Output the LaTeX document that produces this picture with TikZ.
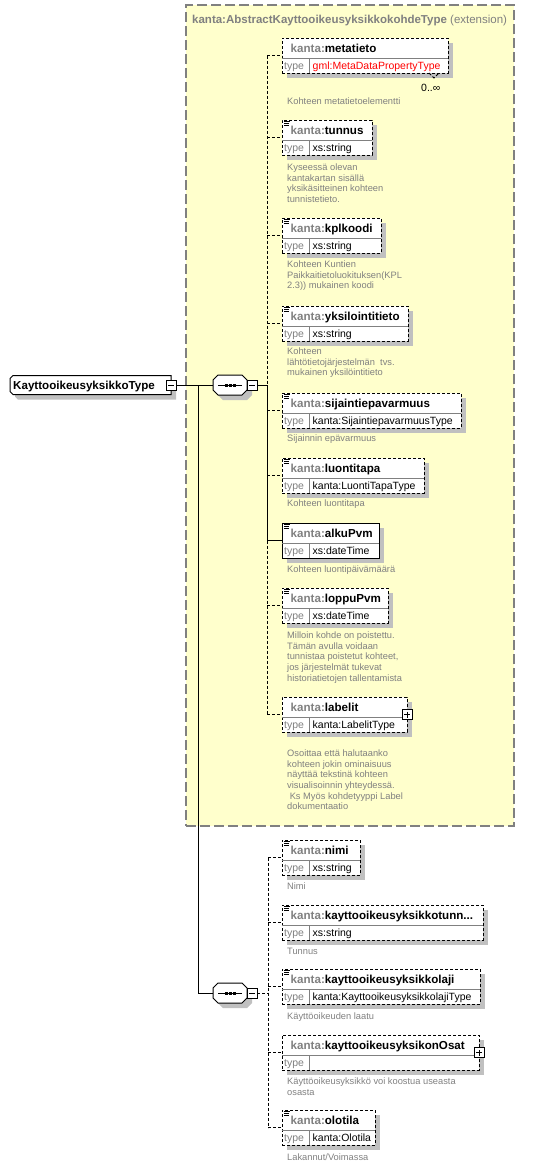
\documentclass[tikz,border=0pt]{standalone}
\usepackage{fontspec}
\setmainfont{Liberation Sans}
\usetikzlibrary{shadows}

\definecolor{extfill}{HTML}{FFFFCC}
\definecolor{extline}{HTML}{808080}
\definecolor{shgray}{HTML}{C0C0C0}
\definecolor{kgray}{HTML}{808080}
\definecolor{dscgray}{HTML}{808080}
\definecolor{divgray}{HTML}{808080}

\tikzset{
	shade5/.style={drop shadow={shadow xshift=5pt, shadow yshift=-5pt, fill=shgray, opacity=1}},
	extbox/.style={draw=extline, fill=extfill, line width=1.2pt, dash pattern=on 10pt off 4pt, anchor=north west, inner sep=0pt, outer sep=0pt},
	exttitle/.style={anchor=base west, inner sep=0pt, text=kgray, font=\fontsize{11.5}{14}\selectfont},
	elbox/.style={draw, line width=1pt, dash pattern=on 3pt off 2pt, fill=white, anchor=north west, minimum height=35pt, inner sep=0pt, outer sep=0pt, shade5},
	reqbox/.style={elbox, solid},
	divline/.style={draw=divgray, line width=1pt},
	ttl/.style={anchor=base west, inner sep=0pt, font=\fontsize{11.6}{14}\selectfont\bfseries},
	typ/.style={anchor=base west, inner sep=0pt, text=kgray, font=\fontsize{10.5}{12}\selectfont},
	val/.style={anchor=base west, inner sep=0pt, font=\fontsize{10.5}{12}\selectfont},
	dsc/.style={anchor=north west, inner sep=0pt, align=left, text=dscgray, font=\fontsize{9.3}{10.7}\selectfont},
	optline/.style={line width=1pt, dash pattern=on 3pt off 2pt},
	reqline/.style={line width=1pt},
	rootbox/.style={minimum width=161pt, minimum height=19pt, inner sep=0pt, outer sep=0pt},
	seqbox/.style={minimum width=34pt, minimum height=20pt, inner sep=0pt, outer sep=0pt},
	minusbox/.style={draw, line width=1pt, fill=white, minimum size=10pt, inner sep=0pt, outer sep=0pt,
		path picture={\draw [line width=1pt] ([xshift=2pt]path picture bounding box.west) -- ([xshift=-2pt]path picture bounding box.east);}},
	plusbox/.style={minusbox,
		path picture={\draw [line width=1pt] ([xshift=2pt]path picture bounding box.west) -- ([xshift=-2pt]path picture bounding box.east) ([yshift=-2pt]path picture bounding box.north) -- ([yshift=2pt]path picture bounding box.south);}},
	docicon/.pic={\draw [line width=0.8pt] ( 0, 1.5 ) -- ( 6, 1.5 ) ( 0, 3.5 ) -- ( 5, 3.5 ) ( 0, 5.5 ) -- ( 5, 5.5 );},
	rootshape/.pic={\filldraw [fill=white, line width=1pt, shade5] ( -77.5, -9.5 ) -- ( 80.5, -9.5 ) -- ( 80.5, 9.5 ) -- ( -77.5, 9.5 ) -- ( -80.5, 6.5 ) -- ( -80.5, -6.5 ) -- cycle;},
	seqshape/.pic={\filldraw [fill=white, line width=1pt, shade5] ( -17, -5 ) -- ( -12, -10 ) -- ( 12, -10 ) -- ( 17, -5 ) -- ( 17, 5 ) -- ( 12, 10 ) -- ( -12, 10 ) -- ( -17, 5 ) -- cycle;
		\draw [line width=1pt] ( -12, 0 ) -- ( 12, 0 );
		\foreach \dx in {-4,0,4} \fill ( \dx-1.5, -1.5 ) rectangle ( \dx+1.5, 1.5 );}
}

\begin{document}
\begin{tikzpicture}[x=1pt, y=-1pt]
	\useasboundingbox ( 0, 0 ) rectangle ( 557, 1168 );

	% расширение
	\node [extbox, minimum width=328pt, minimum height=821pt] (ext) at ( 186, 5 ) {};
	\node [exttitle] (extT) at ( 192, 23 ) {\bfseries kanta:AbstractKayttooikeusyksikkokohdeType\mdseries\ (extension)};

	% корневой тип
	\node [rootbox] (root) at ( 90.5, 385 ) {};
	\pic at (root) {rootshape};
	\node [ttl] (rootT) at ( 13, 389 ) {KayttooikeusyksikkoType};
	\node [minusbox] (rootm) at ( 171, 385 ) {};

	% последовательности
	\node [seqbox] (seq1) at ( 230, 385 ) {};
	\pic at (seq1) {seqshape};
	\node [minusbox] (seq1m) at ( 252, 385 ) {};
	\node [seqbox] (seq2) at ( 230, 993 ) {};
	\pic at (seq2) {seqshape};
	\node [minusbox] (seq2m) at ( 252, 993 ) {};

	\coordinate (fork) at ( 198, 385 );
	\coordinate (spineA) at ( 267, 385 );
	\coordinate (spineB) at ( 268, 993 );

	\draw [reqline] (rootm.east) -- (seq1.west);
	\draw [reqline] (fork) |- (seq2.west);
	\draw [reqline] (seq1m.east) -- (spineA);
	\draw [optline] (seq2m.east) -- (spineB);

	% элемент metatieto
	\node [elbox, minimum width=166pt] (metatieto) at ( 282, 38 ) {};
	\draw [divline] ( 282, 58.5 ) -- ( 448, 58.5 ) ( 309, 58.5 ) -- ( 309, 73 );
	\draw [optline] ( 429, 73 ) -- ( 434, 78 ) -- ( 439, 73 );
	\node [ttl] (metatietoT) at ( 290.5, 52.5 ) {\textcolor{kgray}{kanta:}metatieto};
	\node [typ] (metatietoK) at ( 284, 69 ) {type};
	\node [val, text=red] (metatietoV) at ( 312.5, 69 ) {gml:MetaDataPropertyType};
	\node [val] (metatietoN) at ( 421, 91 ) {0..∞};
	\node [dsc] (metatietoD) at ( 287, 97.5 ) {Kohteen metatietoelementti};

	% элемент tunnus
	\node [elbox, minimum width=90pt] (tunnus) at ( 282, 120 ) {};
	\draw [divline] ( 282, 140.5 ) -- ( 372, 140.5 ) ( 309, 140.5 ) -- ( 309, 155 );
	\pic at ( 284, 120 ) {docicon};
	\node [ttl] (tunnusT) at ( 290.5, 134.5 ) {\textcolor{kgray}{kanta:}tunnus};
	\node [typ] (tunnusK) at ( 284, 151 ) {type};
	\node [val] (tunnusV) at ( 312.5, 151 ) {xs:string};
	\node [dsc] (tunnusD) at ( 287, 163.5 ) {Kyseessä olevan\\kantakartan sisällä\\yksikäsitteinen kohteen\\tunnistetieto.};

	% элемент kplkoodi
	\node [elbox, minimum width=99pt] (kplkoodi) at ( 282, 218 ) {};
	\draw [divline] ( 282, 238.5 ) -- ( 381, 238.5 ) ( 309, 238.5 ) -- ( 309, 253 );
	\pic at ( 284, 218 ) {docicon};
	\node [ttl] (kplkoodiT) at ( 290.5, 232.5 ) {\textcolor{kgray}{kanta:}kplkoodi};
	\node [typ] (kplkoodiK) at ( 284, 249 ) {type};
	\node [val] (kplkoodiV) at ( 312.5, 249 ) {xs:string};
	\node [dsc] (kplkoodiD) at ( 287, 260.5 ) {Kohteen Kuntien\\Paikkaitietoluokituksen(KPL\\2.3)) mukainen koodi};

	% элемент yksilointitieto
	\node [elbox, minimum width=126pt] (yksilointi) at ( 282, 306 ) {};
	\draw [divline] ( 282, 326.5 ) -- ( 408, 326.5 ) ( 309, 326.5 ) -- ( 309, 341 );
	\pic at ( 284, 306 ) {docicon};
	\node [ttl] (yksilointiT) at ( 290.5, 320.5 ) {\textcolor{kgray}{kanta:}yksilointitieto};
	\node [typ] (yksilointiK) at ( 284, 337 ) {type};
	\node [val] (yksilointiV) at ( 312.5, 337 ) {xs:string};
	\node [dsc] (yksilointiD) at ( 287, 347.5 ) {Kohteen\\lähtötietojärjestelmän\ \ tvs.\\mukainen yksilöintitieto};

	% элемент sijaintiepavarmuus
	\node [elbox, minimum width=179pt] (sijainti) at ( 282, 393 ) {};
	\draw [divline] ( 282, 413.5 ) -- ( 461, 413.5 ) ( 309, 413.5 ) -- ( 309, 428 );
	\pic at ( 284, 393 ) {docicon};
	\node [ttl] (sijaintiT) at ( 290.5, 407.5 ) {\textcolor{kgray}{kanta:}sijaintiepavarmuus};
	\node [typ] (sijaintiK) at ( 284, 424 ) {type};
	\node [val] (sijaintiV) at ( 312.5, 424 ) {kanta:SijaintiepavarmuusType};
	\node [dsc] (sijaintiD) at ( 287, 434.5 ) {Sijainnin epävarmuus};

	% элемент luontitapa
	\node [elbox, minimum width=142pt] (luontitapa) at ( 282, 458 ) {};
	\draw [divline] ( 282, 478.5 ) -- ( 424, 478.5 ) ( 309, 478.5 ) -- ( 309, 493 );
	\pic at ( 284, 458 ) {docicon};
	\node [ttl] (luontitapaT) at ( 290.5, 472.5 ) {\textcolor{kgray}{kanta:}luontitapa};
	\node [typ] (luontitapaK) at ( 284, 489 ) {type};
	\node [val] (luontitapaV) at ( 312.5, 489 ) {kanta:LuontiTapaType};
	\node [dsc] (luontitapaD) at ( 287, 499.5 ) {Kohteen luontitapa};

	% элемент alkuPvm
	\node [reqbox, minimum width=97pt] (alkupvm) at ( 282, 523 ) {};
	\draw [divline] ( 282, 543.5 ) -- ( 379, 543.5 ) ( 309, 543.5 ) -- ( 309, 558 );
	\pic at ( 284, 523 ) {docicon};
	\node [ttl] (alkupvmT) at ( 290.5, 537.5 ) {\textcolor{kgray}{kanta:}alkuPvm};
	\node [typ] (alkupvmK) at ( 284, 554 ) {type};
	\node [val] (alkupvmV) at ( 312.5, 554 ) {xs:dateTime};
	\node [dsc] (alkupvmD) at ( 287, 565.5 ) {Kohteen luontipäivämäärä};

	% элемент loppuPvm
	\node [elbox, minimum width=106pt] (loppupvm) at ( 282, 588 ) {};
	\draw [divline] ( 282, 608.5 ) -- ( 388, 608.5 ) ( 309, 608.5 ) -- ( 309, 623 );
	\pic at ( 284, 588 ) {docicon};
	\node [ttl] (loppupvmT) at ( 290.5, 602.5 ) {\textcolor{kgray}{kanta:}loppuPvm};
	\node [typ] (loppupvmK) at ( 284, 619 ) {type};
	\node [val] (loppupvmV) at ( 312.5, 619 ) {xs:dateTime};
	\node [dsc] (loppupvmD) at ( 287, 631.5 ) {Milloin kohde on poistettu.\\Tämän avulla voidaan\\tunnistaa poistetut kohteet,\\jos järjestelmät tukevat\\historiatietojen tallentamista};

	% элемент labelit
	\node [elbox, minimum width=125pt] (labelit) at ( 282, 697 ) {};
	\draw [divline] ( 282, 717.5 ) -- ( 407, 717.5 ) ( 309, 717.5 ) -- ( 309, 732 );
	\node [plusbox] (labelitP) at (labelit.east) {};
	\node [ttl] (labelitT) at ( 290.5, 711.5 ) {\textcolor{kgray}{kanta:}labelit};
	\node [typ] (labelitK) at ( 284, 728 ) {type};
	\node [val] (labelitV) at ( 312.5, 728 ) {kanta:LabelitType};
	\node [dsc] (labelitD) at ( 287, 749.5 ) {Osoittaa että halutaanko\\kohteen jokin ominaisuus\\näyttää tekstinä kohteen\\visualisoinnin yhteydessä.\\\ Ks Myös kohdetyyppi Label\\dokumentaatio};

	% ось первой последовательности
	\draw [optline] (spineA|-metatieto.west) -- (spineA);
	\draw [reqline] (spineA) -- (spineA|-alkupvm.west);
	\draw [optline] (spineA|-alkupvm.west) -- (spineA|-labelit.west);
	\draw [optline] (spineA|-metatieto.west) -- (metatieto.west);
	\draw [optline] (spineA|-tunnus.west) -- (tunnus.west);
	\draw [optline] (spineA|-kplkoodi.west) -- (kplkoodi.west);
	\draw [optline] (spineA|-yksilointi.west) -- (yksilointi.west);
	\draw [optline] (spineA|-sijainti.west) -- (sijainti.west);
	\draw [optline] (spineA|-luontitapa.west) -- (luontitapa.west);
	\draw [reqline] (spineA|-alkupvm.west) -- (alkupvm.west);
	\draw [optline] (spineA|-loppupvm.west) -- (loppupvm.west);
	\draw [optline] (spineA|-labelit.west) -- (labelit.west);

	% элемент nimi
	\node [elbox, minimum width=78pt] (nimi) at ( 282, 840 ) {};
	\draw [divline] ( 282, 860.5 ) -- ( 360, 860.5 ) ( 309, 860.5 ) -- ( 309, 875 );
	\pic at ( 284, 840 ) {docicon};
	\node [ttl] (nimiT) at ( 290.5, 854.5 ) {\textcolor{kgray}{kanta:}nimi};
	\node [typ] (nimiK) at ( 284, 871 ) {type};
	\node [val] (nimiV) at ( 312.5, 871 ) {xs:string};
	\node [dsc] (nimiD) at ( 287, 882.5 ) {Nimi};

	% элемент kayttooikeusyksikkotunnus
	\node [elbox, minimum width=201pt] (kotunnus) at ( 282, 905 ) {};
	\draw [divline] ( 282, 925.5 ) -- ( 483, 925.5 ) ( 309, 925.5 ) -- ( 309, 940 );
	\pic at ( 284, 905 ) {docicon};
	\node [ttl] (kotunnusT) at ( 290.5, 919.5 ) {\textcolor{kgray}{kanta:}kayttooikeusyksikkotunn...};
	\node [typ] (kotunnusK) at ( 284, 936 ) {type};
	\node [val] (kotunnusV) at ( 312.5, 936 ) {xs:string};
	\node [dsc] (kotunnusD) at ( 287, 947.5 ) {Tunnus};

	% элемент kayttooikeusyksikkolaji
	\node [elbox, minimum width=198pt] (kolaji) at ( 282, 969 ) {};
	\draw [divline] ( 282, 989.5 ) -- ( 480, 989.5 ) ( 309, 989.5 ) -- ( 309, 1004 );
	\pic at ( 284, 969 ) {docicon};
	\node [ttl] (kolajiT) at ( 290.5, 983.5 ) {\textcolor{kgray}{kanta:}kayttooikeusyksikkolaji};
	\node [typ] (kolajiK) at ( 284, 1000 ) {type};
	\node [val] (kolajiV) at ( 312.5, 1000 ) {kanta:KayttooikeusyksikkolajiType};
	\node [dsc] (kolajiD) at ( 287, 1012.5 ) {Käyttöoikeuden laatu};

	% элемент kayttooikeusyksikonOsat
	\node [elbox, minimum width=197pt] (koosat) at ( 282, 1035 ) {};
	\draw [divline] ( 282, 1055.5 ) -- ( 479, 1055.5 ) ( 309, 1055.5 ) -- ( 309, 1070 );
	\node [plusbox] (koosatP) at (koosat.east) {};
	\node [ttl] (koosatT) at ( 290.5, 1049.5 ) {\textcolor{kgray}{kanta:}kayttooikeusyksikonOsat};
	\node [typ] (koosatK) at ( 284, 1066 ) {type};
	\node [dsc] (koosatD) at ( 287, 1077.5 ) {Käyttöoikeusyksikkö voi koostua useasta\\osasta};

	% элемент olotila
	\node [elbox, minimum width=93pt] (olotila) at ( 282, 1110 ) {};
	\draw [divline] ( 282, 1130.5 ) -- ( 375, 1130.5 ) ( 309, 1130.5 ) -- ( 309, 1145 );
	\pic at ( 284, 1110 ) {docicon};
	\node [ttl] (olotilaT) at ( 290.5, 1124.5 ) {\textcolor{kgray}{kanta:}olotila};
	\node [typ] (olotilaK) at ( 284, 1141 ) {type};
	\node [val] (olotilaV) at ( 312.5, 1141 ) {kanta:Olotila};
	\node [dsc] (olotilaD) at ( 287, 1153.5 ) {Lakannut/Voimassa};

	% ось второй последовательности
	\draw [optline] (spineB|-nimi.west) -- (spineB|-olotila.west);
	\draw [optline] (spineB|-nimi.west) -- (nimi.west);
	\draw [optline] (spineB|-kotunnus.west) -- (kotunnus.west);
	\draw [optline] (spineB|-kolaji.west) -- (kolaji.west);
	\draw [optline] (spineB|-koosat.west) -- (koosat.west);
	\draw [optline] (spineB|-olotila.west) -- (olotila.west);
\end{tikzpicture}
\end{document}
